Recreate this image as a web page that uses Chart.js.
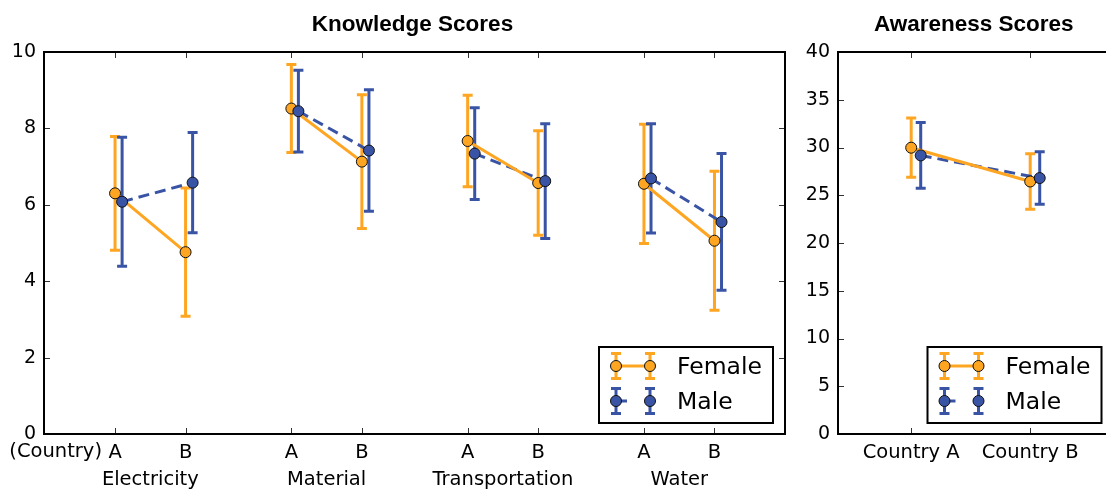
<!DOCTYPE html>
<html><head><meta charset="utf-8">
<script src="https://cdn.jsdelivr.net/npm/chart.js@4"></script>
<style>
html,body{margin:0;padding:0;background:#fff;overflow:hidden;width:1106px;height:491px}
#wrap{position:relative;width:1106px;height:491px;overflow:hidden}
canvas{position:absolute;top:0}
</style></head><body>
<div id="wrap">
<canvas id="k" width="800" height="491" style="left:0;width:800px;height:491px"></canvas>
<canvas id="a" width="320" height="491" style="left:800px;width:320px;height:491px"></canvas>
</div>
<script>
// ---------- data ----------
const topics = ['Electricity', 'Material', 'Transportation', 'Water'];
const countryLetters = ['A', 'B'];
const knowledgeFemaleMean = [6.30, 4.76, 8.52, 7.13, 7.67, 6.57, 6.55, 5.06];
const knowledgeFemaleErr  = [1.49, 1.68, 1.15, 1.75, 1.20, 1.37, 1.56, 1.82];
const knowledgeMaleMean   = [6.08, 6.58, 8.45, 7.42, 7.34, 6.62, 6.69, 5.55];
const knowledgeMaleErr    = [1.69, 1.31, 1.07, 1.59, 1.20, 1.50, 1.43, 1.79];
const knowledgeYTicks = [0, 2, 4, 6, 8, 10];

const awarenessCountries = ['Country A', 'Country B'];
const awarenessFemaleMean = [29.98, 26.44];
const awarenessFemaleErr  = [3.10, 2.90];
const awarenessMaleMean   = [29.17, 26.80];
const awarenessMaleErr    = [3.45, 2.75];
const awarenessYTicks = [0, 5, 10, 15, 20, 25, 30, 35, 40];

const seriesNames = ['Female', 'Male'];

// ---------- style ----------
const ORANGE = '#fea521';
const BLUE = '#3a54a5';
const FONT = '"DejaVu Sans", sans-serif';
const XFONT = 19.5, YFONT = 19, LFONT = 23.5;
Chart.defaults.font.family = FONT;
Chart.defaults.color = '#000';

// positions on the linear x axis
const kFemaleX = [], kMaleX = [], kTickX = [], kTickLabels = [];
topics.forEach((t, g) => countryLetters.forEach((c, j) => {
  const v = g + j * 0.4;
  kTickX.push(v); kTickLabels.push(c);
  kFemaleX.push(v); kMaleX.push(v + 0.04);
}));
const aTickX = [0, 1];
const aFemaleX = [0, 1];
const aMaleX = [0.08, 1.08];

function linePts(xs, ys, groupSize) {
  const out = [];
  xs.forEach((x, i) => {
    out.push({x: x, y: ys[i]});
    if ((i + 1) % groupSize === 0 && i < xs.length - 1) out.push({x: x + 0.3, y: null});
  });
  return out;
}
function pts(xs, ys) { return xs.map((x, i) => ({x: x, y: ys[i]})); }

function datasets(fx, fm, mx, mm, gs) {
  return [
    {label: 'mp', data: pts(mx, mm), showLine: false, pointRadius: 5.5, pointBackgroundColor: BLUE,
     pointBorderColor: '#111', pointBorderWidth: 1, order: 0},
    {label: 'fp', data: pts(fx, fm), showLine: false, pointRadius: 5.5, pointBackgroundColor: ORANGE,
     pointBorderColor: '#111', pointBorderWidth: 1, order: 1},
    {label: 'fl', data: linePts(fx, fm, gs), borderColor: ORANGE, borderWidth: 3, pointRadius: 0,
     spanGaps: false, fill: false, tension: 0, order: 2},
    {label: 'ml', data: linePts(mx, mm, gs), borderColor: BLUE, borderWidth: 3, borderDash: [11, 6],
     pointRadius: 0, spanGaps: false, fill: false, tension: 0, order: 3}
  ];
}

function drawErr(ctx, x, y, xs, mean, err, color) {
  ctx.save();
  ctx.strokeStyle = color; ctx.lineWidth = 3; ctx.lineCap = 'butt';
  xs.forEach((xv, i) => {
    const px = x.getPixelForValue(xv);
    const hi = y.getPixelForValue(mean[i] + err[i]);
    const lo = y.getPixelForValue(mean[i] - err[i]);
    ctx.beginPath();
    ctx.moveTo(px, hi); ctx.lineTo(px, lo);
    ctx.moveTo(px - 5, hi); ctx.lineTo(px + 5, hi);
    ctx.moveTo(px - 5, lo); ctx.lineTo(px + 5, lo);
    ctx.stroke();
  });
  ctx.restore();
}

function drawLegend(ctx, ca) {
  const w = 174, h = 76;
  const x0 = ca.right - 12 - w, y0 = ca.bottom - 11 - h;
  ctx.save();
  ctx.fillStyle = '#fff'; ctx.fillRect(x0, y0, w, h);
  ctx.strokeStyle = '#000'; ctx.lineWidth = 2; ctx.strokeRect(x0, y0, w, h);
  const rows = [{c: ORANGE, cy: y0 + 19, dash: false}, {c: BLUE, cy: y0 + 54, dash: true}];
  rows.forEach((r, k) => {
    const m1 = x0 + 17, m2 = x0 + 51;
    ctx.strokeStyle = r.c; ctx.lineWidth = 3;
    [m1, m2].forEach(mx => {
      ctx.beginPath();
      ctx.moveTo(mx, r.cy - 12.5); ctx.lineTo(mx, r.cy + 12.5);
      ctx.moveTo(mx - 5, r.cy - 12.5); ctx.lineTo(mx + 5, r.cy - 12.5);
      ctx.moveTo(mx - 5, r.cy + 12.5); ctx.lineTo(mx + 5, r.cy + 12.5);
      ctx.stroke();
    });
    ctx.beginPath();
    if (r.dash) { ctx.moveTo(m1, r.cy); ctx.lineTo(m1 + 11, r.cy); }
    else { ctx.moveTo(m1, r.cy); ctx.lineTo(m2, r.cy); }
    ctx.stroke();
    [m1, m2].forEach(mx => {
      ctx.beginPath(); ctx.arc(mx, r.cy, 5.5, 0, Math.PI * 2);
      ctx.fillStyle = r.c; ctx.fill();
      ctx.lineWidth = 1; ctx.strokeStyle = '#111'; ctx.stroke();
    });
    ctx.fillStyle = '#000'; ctx.font = LFONT + 'px ' + FONT;
    ctx.textAlign = 'left'; ctx.textBaseline = 'alphabetic';
    ctx.fillText(seriesNames[k], x0 + 78, r.cy + 8);
  });
  ctx.restore();
}

function frameAndTicks(ctx, chart, xTicks, yTicks, drawRight) {
  const ca = chart.chartArea, x = chart.scales.x, y = chart.scales.y;
  ctx.save();
  ctx.strokeStyle = '#333'; ctx.lineWidth = 1;
  ctx.beginPath();
  xTicks.forEach(v => {
    const px = Math.round(x.getPixelForValue(v)) + 0.5;
    ctx.moveTo(px, ca.top); ctx.lineTo(px, ca.top + 6);
    ctx.moveTo(px, ca.bottom); ctx.lineTo(px, ca.bottom - 6);
  });
  yTicks.forEach(v => {
    const py = Math.round(y.getPixelForValue(v)) + 0.5;
    ctx.moveTo(ca.left, py); ctx.lineTo(ca.left + 6, py);
    ctx.moveTo(ca.right, py); ctx.lineTo(ca.right - 6, py);
  });
  ctx.stroke();
  ctx.strokeStyle = '#000'; ctx.lineWidth = 2;
  ctx.beginPath();
  ctx.moveTo(ca.left, ca.top); ctx.lineTo(ca.right, ca.top);
  ctx.moveTo(ca.left, ca.top - 1); ctx.lineTo(ca.left, ca.bottom + 1);
  ctx.moveTo(ca.left - 1, ca.bottom); ctx.lineTo(ca.right + 1, ca.bottom);
  if (drawRight) { ctx.moveTo(ca.right, ca.top - 1); ctx.lineTo(ca.right, ca.bottom + 1); }
  ctx.stroke();
  ctx.restore();
}

function title(ctx, ca, text) {
  ctx.save();
  ctx.font = 'bold 22.5px "Liberation Sans", Arial, sans-serif';
  ctx.fillStyle = '#000'; ctx.textAlign = 'center'; ctx.textBaseline = 'alphabetic';
  ctx.fillText(text, (ca.left + ca.right) / 2 - 2, 31);
  ctx.restore();
}

function makeChart(id, cfg) {
  return new Chart(document.getElementById(id), {
    type: 'line',
    data: {datasets: cfg.datasets},
    options: {
      responsive: false, animation: false, devicePixelRatio: 1,
      layout: {padding: cfg.padding},
      plugins: {legend: {display: false}, tooltip: {enabled: false}, title: {display: false}},
      scales: {
        x: {
          type: 'linear', min: cfg.xmin, max: cfg.xmax,
          grid: {display: false, drawTicks: false}, border: {display: false},
          afterBuildTicks: s => { s.ticks = cfg.xTicks.map(v => ({value: v})); },
          afterFit: s => { s.height = 57; s.paddingLeft = 0; s.paddingRight = 0; },
          ticks: {autoSkip: false, maxRotation: 0, padding: 7, color: '#000',
                  font: {size: XFONT, family: FONT},
                  callback: (v, i) => cfg.xLabels[i]}
        },
        y: {
          min: cfg.ymin, max: cfg.ymax,
          grid: {display: false, drawTicks: false}, border: {display: false},
          afterBuildTicks: s => { s.ticks = cfg.yTicks.map(v => ({value: v})); },
          afterFit: s => { s.width = cfg.yWidth; },
          ticks: {padding: 8, color: '#000', font: {size: YFONT, family: FONT},
                  callback: v => String(v)}
        }
      }
    },
    plugins: [{
      id: 'deco',
      beforeDatasetsDraw(chart) {
        const {ctx, scales: {x, y}} = chart;
        drawErr(ctx, x, y, cfg.fx, cfg.fm, cfg.fe, ORANGE);
        drawErr(ctx, x, y, cfg.mx, cfg.mm, cfg.me, BLUE);
      },
      afterDraw(chart) {
        const ctx = chart.ctx, ca = chart.chartArea;
        frameAndTicks(ctx, chart, cfg.xTicks, cfg.yTicks, cfg.drawRight);
        title(ctx, ca, cfg.title);
        drawLegend(ctx, ca);
        if (cfg.extra) cfg.extra(ctx, chart);
      }
    }]
  });
}

makeChart('k', {
  datasets: datasets(kFemaleX, knowledgeFemaleMean, kMaleX, knowledgeMaleMean, 2),
  padding: {top: 52, right: 15, left: 0, bottom: 0},
  xmin: -0.403, xmax: 3.8, xTicks: kTickX, xLabels: kTickLabels,
  ymin: 0, ymax: 10, yTicks: knowledgeYTicks, yWidth: 44,
  fx: kFemaleX, fm: knowledgeFemaleMean, fe: knowledgeFemaleErr,
  mx: kMaleX, mm: knowledgeMaleMean, me: knowledgeMaleErr,
  title: 'Knowledge Scores', drawRight: true,
  extra(ctx, chart) {
    const x = chart.scales.x;
    ctx.save();
    ctx.font = XFONT + 'px ' + FONT; ctx.fillStyle = '#000'; ctx.textBaseline = 'alphabetic';
    ctx.textAlign = 'center';
    topics.forEach((t, g) => ctx.fillText(t, x.getPixelForValue(g + 0.2), 485));
    ctx.textAlign = 'right';
    ctx.fillText('(Country)', 102, 457);
    ctx.restore();
  }
});

makeChart('a', {
  datasets: datasets(aFemaleX, awarenessFemaleMean, aMaleX, awarenessMaleMean, 2),
  padding: {top: 52, right: 4, left: 0, bottom: 0},
  xmin: -0.615, xmax: 1.7, xTicks: aTickX, xLabels: awarenessCountries,
  ymin: 0, ymax: 40, yTicks: awarenessYTicks, yWidth: 38,
  fx: aFemaleX, fm: awarenessFemaleMean, fe: awarenessFemaleErr,
  mx: aMaleX, mm: awarenessMaleMean, me: awarenessMaleErr,
  title: 'Awareness Scores', drawRight: true
});
</script>
</body></html>
